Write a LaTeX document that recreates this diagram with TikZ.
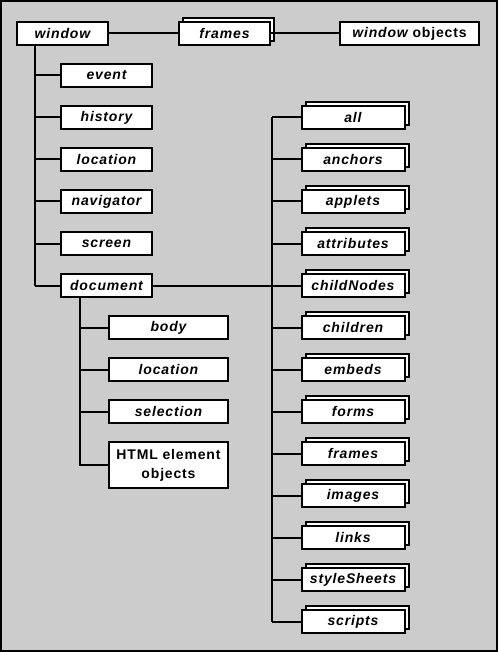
\documentclass[tikz,border=0pt]{standalone}
\usepackage{fontspec}
\setmainfont{Liberation Sans}[LetterSpace=6]
\usetikzlibrary{shadows}

\definecolor{bggray}{RGB}{204,204,204}
\tikzset{
  obj/.style={draw, fill=white, line width=2pt, inner sep=0pt,
    minimum width=91pt, minimum height=23pt,
    font=\fontsize{14}{16}\selectfont\bfseries\itshape},
  coll/.style={obj, minimum width=103pt,
    copy shadow={shadow xshift=4pt, shadow yshift=4pt, draw=black, fill=white}},
  conn/.style={line width=2pt}
}

\begin{document}
\begin{tikzpicture}[x=1pt, y=-1pt]
  \useasboundingbox (0,0) rectangle (498,652);
  \draw[line width=2pt, fill=bggray] (1,1) rectangle (497,651);

  % top row
  \node[obj] (window) at (62.5,33.5) {window};
  \node[coll, minimum width=91pt] (winframes) at (224.5,33.5) {frames};
  \node[obj, minimum width=139pt] (winobjects) at (409.5,33.5) {window {\upshape objects}};
  \draw[conn] (window) -- (winframes);
  \draw[conn] (winframes) -- (winobjects);

  % window properties
  \coordinate (wtrunk) at (35,45);
  \foreach \y/\n in {75.5/event, 117.5/history, 159.5/location, 201.5/navigator, 243.5/screen, 285.5/document} {
    \node[obj] (\n) at (106.5,\y) {\n};
    \draw[conn] (wtrunk |- \n) -- (\n.west);
  }
  \draw[conn] (wtrunk) -- (wtrunk |- document);

  % document properties
  \coordinate (dtrunk) at (80,298);
  \foreach \y/\n/\t in {327.5/body/body, 369.5/doclocation/location, 411.5/selection/selection} {
    \node[obj, minimum width=119pt] (\n) at (168.5,\y) {\t};
    \draw[conn] (dtrunk |- \n) -- (\n.west);
  }
  \node[obj, minimum width=119pt, minimum height=46pt, align=center, font=\fontsize{14}{19}\selectfont\bfseries]
    (html) at (168.5,465) {HTML element\\objects};
  \draw[conn] (dtrunk) |- (html.west);

  % document collections
  \coordinate (rtrunk) at (272,285.5);
  \foreach \y/\n in {117.5/all, 159.5/anchors, 201.5/applets, 243.5/attributes, 285.5/childNodes,
      327.5/children, 369.5/embeds, 411.5/forms, 453.5/frames, 495.5/images, 537.5/links,
      579.5/styleSheets, 621.5/scripts} {
    \node[coll] (\n) at (353,\y) {\n};
    \draw[conn] (rtrunk |- \n) -- (\n.west);
  }
  \draw[conn] (rtrunk |- all) -- (rtrunk |- scripts);
  \draw[conn] (document) -- (rtrunk);
\end{tikzpicture}
\end{document}
